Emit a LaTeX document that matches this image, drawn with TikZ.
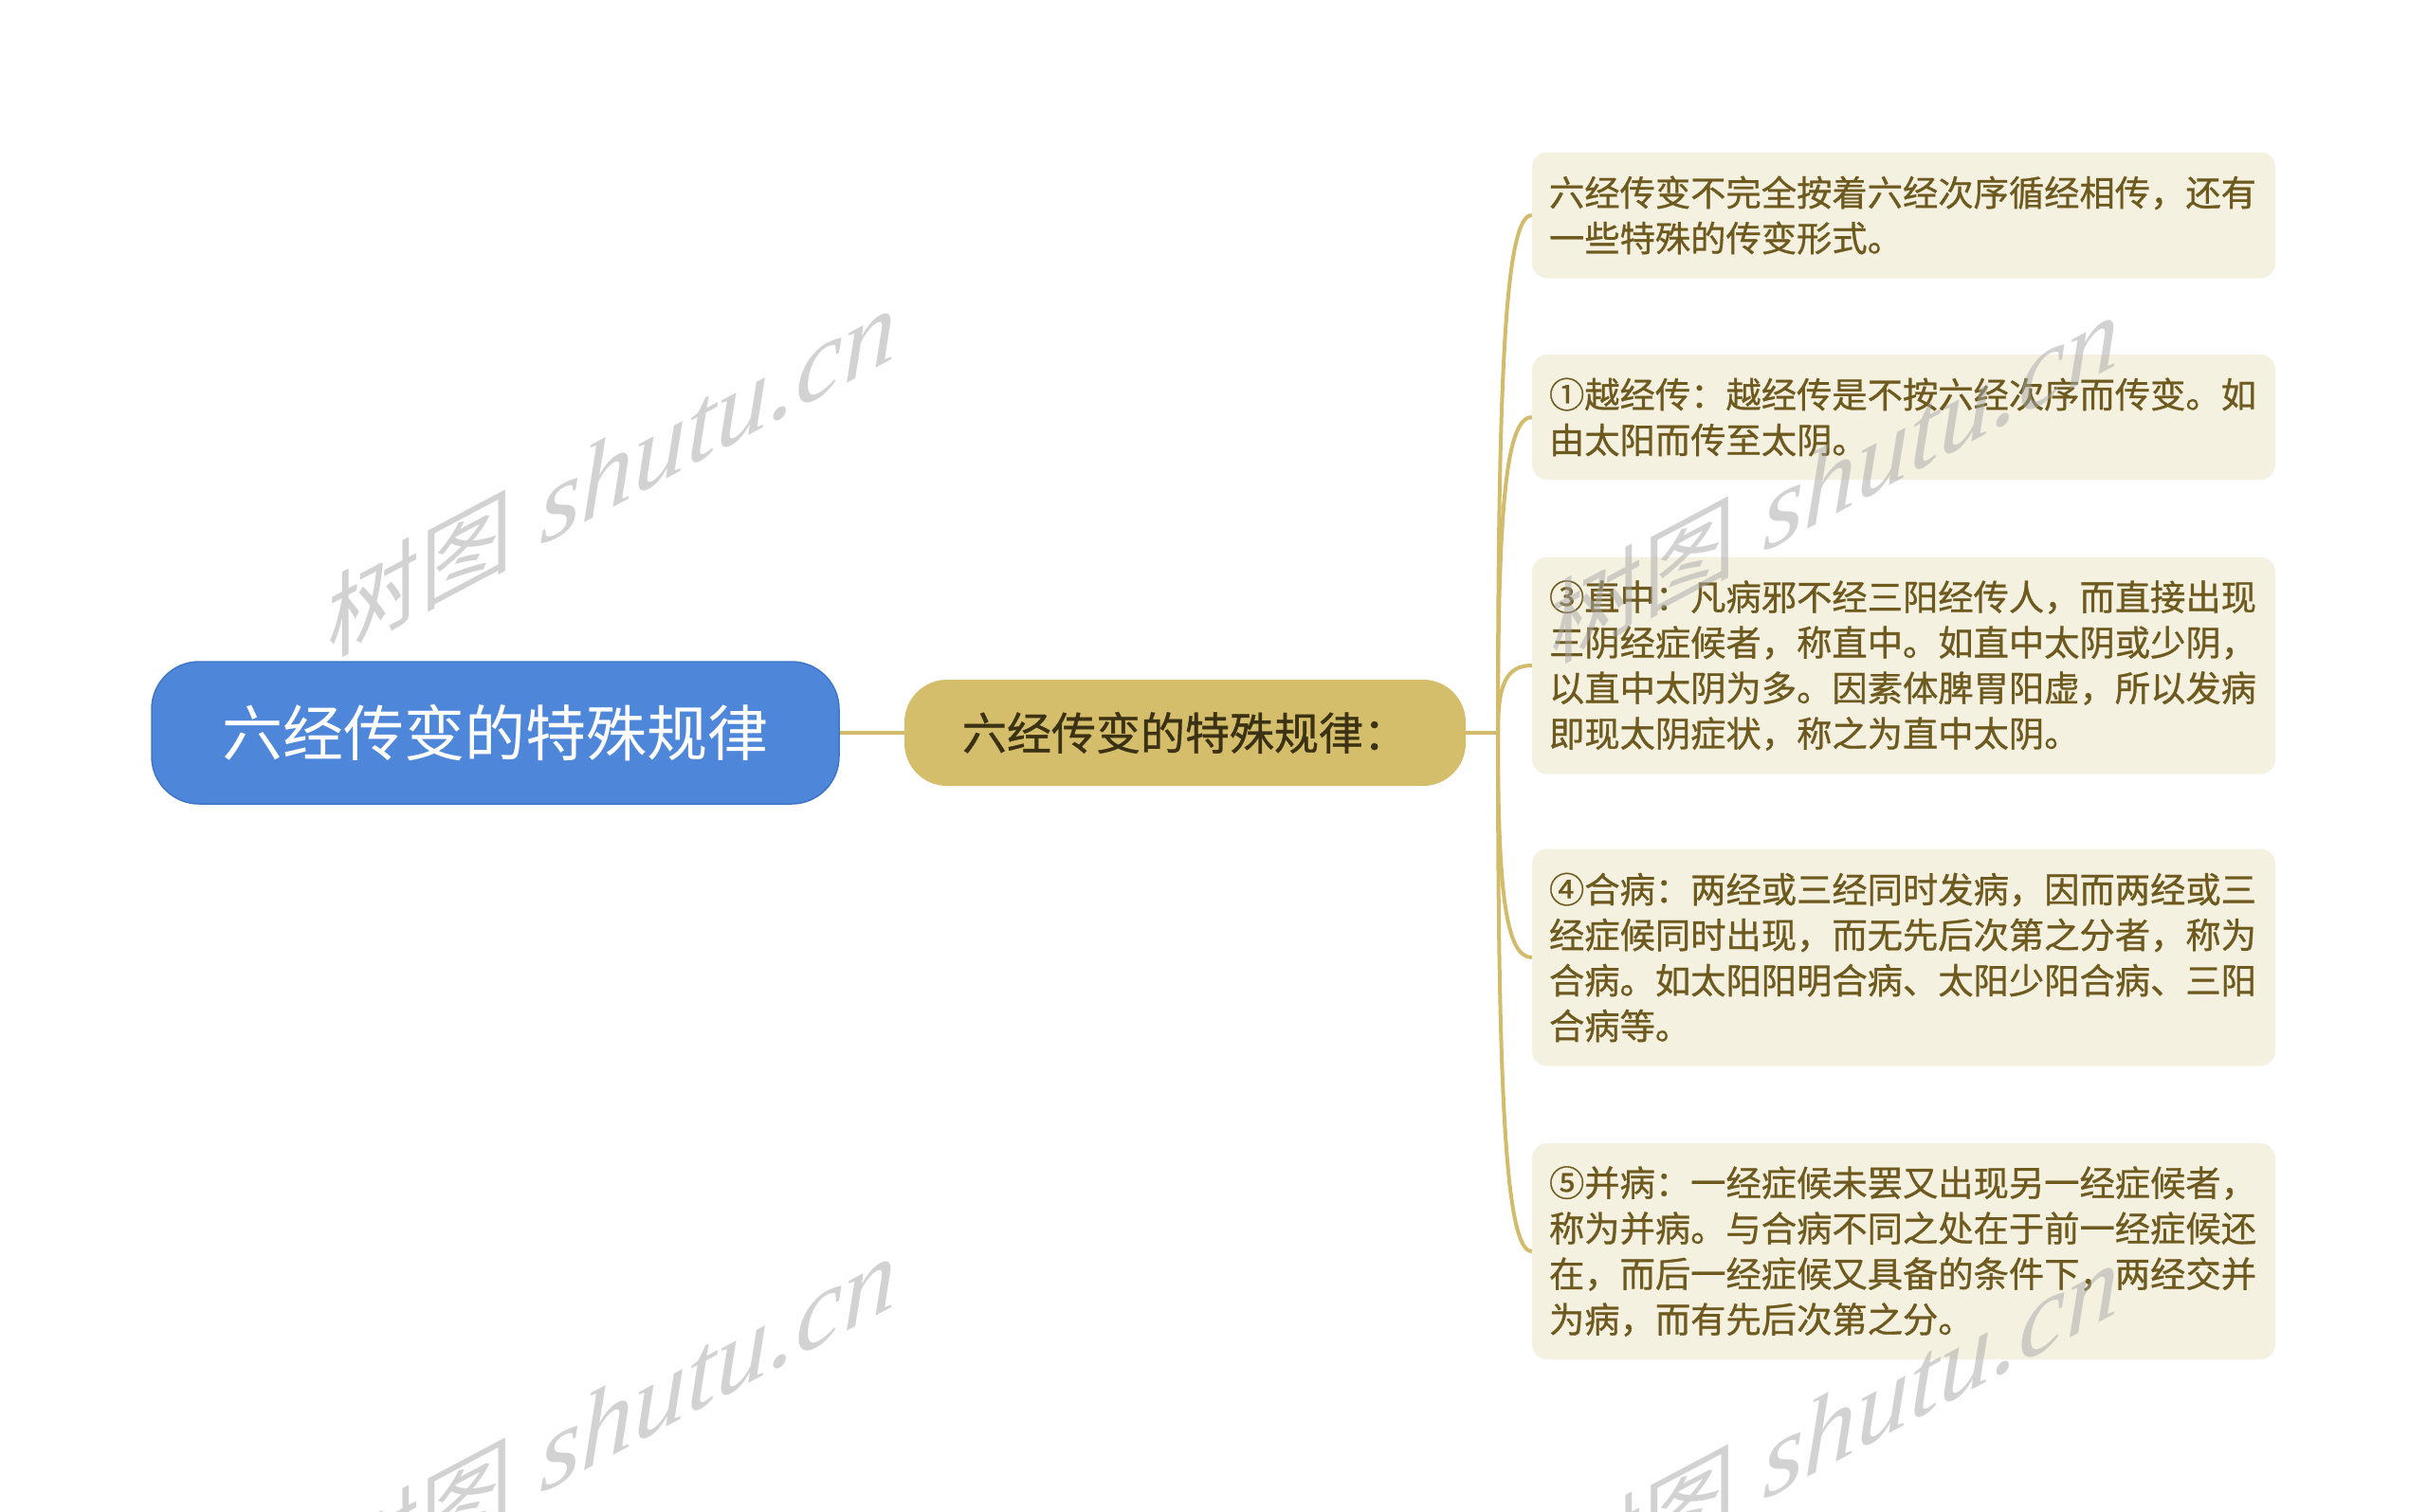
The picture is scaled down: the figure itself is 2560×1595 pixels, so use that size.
\documentclass[tikz,border=0pt]{standalone}
\usepackage{fontspec}
\setmainfont{Noto Sans CJK SC}
\newfontfamily\cjkfont{Noto Sans CJK SC}
\newfontfamily\cjkheavy[FakeBold=0.8]{Noto Sans CJK SC}
\newfontfamily\wmlatin{Liberation Serif}
\definecolor{rootblue}{HTML}{4E86DA}
\definecolor{rootedge}{HTML}{3F76C8}
\definecolor{subgold}{HTML}{D4BD6B}
\definecolor{subtext}{HTML}{3B3113}
\definecolor{leaffill}{HTML}{F5F1E1}
\definecolor{leaftext}{HTML}{6E5A1E}
\definecolor{conncol}{HTML}{D2BC6C}
\definecolor{wmgray}{HTML}{A6A6A6}
\begin{document}
\begin{tikzpicture}[x=1pt,y=-1pt,
  rootbox/.style={fill=rootblue, draw=rootedge, line width=1.5pt, rounded corners=50pt,
    minimum width=725pt, minimum height=150pt, inner sep=0pt, text=white,
    font=\cjkfont\fontsize{64pt}{72pt}\selectfont},
  subbox/.style={fill=subgold, draw=none, rounded corners=45pt,
    minimum width=592pt, minimum height=112pt, inner sep=0pt, text=subtext,
    font=\cjkheavy\fontsize{47pt}{54pt}\selectfont},
  leafbox/.style={fill=leaffill, draw=none, rounded corners=16pt,
    minimum width=784pt, inner sep=0pt, text width=748pt, align=left, text=leaftext,
    font=\cjkheavy\fontsize{37.3pt}{48pt}\selectfont},
  conn/.style={draw=conncol, line width=4pt},
  wmark/.style={anchor=base west, inner sep=0pt, transform shape, text=wmgray, text opacity=0.5}
]
\useasboundingbox (0,0) rectangle (2560,1595);
\fill[white] (0,0) rectangle (2560,1595);

\node[rootbox] (root) at (522.5,773) {六经传变的特殊规律};
\node[subbox] (sub) at (1250,773) {六经传变的特殊规律：};
\coordinate (j) at (1580,773);

\node[leafbox, minimum height=133pt] (l1) at (2008,227) {六经传变不完全按着六经次序循经相传，还有\\一些特殊的传变形式。};
\node[leafbox, minimum height=132pt] (l2) at (2008,440) {①越经传：越经传是不按六经次序而传变。如\\由太阳而传至太阴。};
\node[leafbox, minimum height=229pt] (l3) at (2008,702) {③直中：凡病邪不经三阳经传人，而直接出现\\三阴经症候者，称直中。如直中太阴或少阴，\\以直中太阴为多。因素体脾胃阳虚，所以发病\\即现太阴症状，称之为直中太阴。};
\node[leafbox, minimum height=229pt] (l4) at (2008,1010) {④合病：两经或三经同时发病，因而两经或三\\经症候同时出现，而无先后次第之分者，称为\\合病。如太阳阳明合病、太阳少阳合病、三阳\\合病等。};
\node[leafbox, minimum height=228pt] (l5) at (2008,1320) {⑤并病：一经症候未罢又出现另一经症候者，\\称为并病。与合病不同之处在于前一经症候还\\在，而后一经症候又具备的条件下，两经交并\\为病，而有先后次第之分。};

\draw[conn] (root.east) -- (sub.west);
\draw[conn] (sub.east) -- (j);
\draw[conn] (j) .. controls (1580,391) and (1588,227) .. (l1.west);
\draw[conn] (j) .. controls (1580,540) and (1588,440) .. (l2.west);
\draw[conn] (j) .. controls (1580,723) and (1588,702) .. (l3.west);
\draw[conn] (j) .. controls (1580,939) and (1588,1010) .. (l4.west);
\draw[conn] (j) .. controls (1580,1156) and (1588,1320) .. (l5.west);

\foreach \sx/\sy [count=\k] in {345/695, 345/1695, 1635/702, 1635/1702} {
  \begin{scope}[shift={(\sx,\sy)}, yslant=0.53]
    \node[wmark] (wm\k) at (0,0) {{\cjkfont\fontsize{98pt}{100pt}\selectfont 树图}{\wmlatin\itshape\fontsize{112pt}{114pt}\selectfont\ shutu.cn}};
  \end{scope}
}
\end{tikzpicture}
\end{document}
